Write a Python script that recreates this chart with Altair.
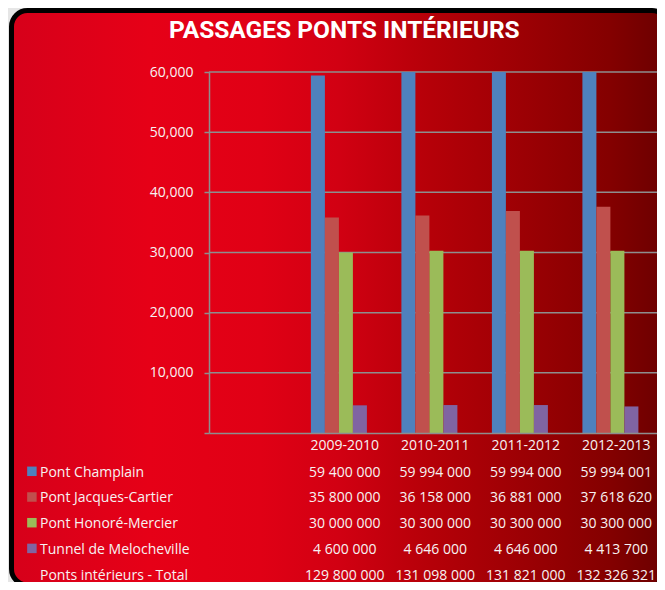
import altair as alt
import pandas as pd

# ---- data ----
years = ["2009-2010", "2010-2011", "2011-2012", "2012-2013"]
slots = [" "] + years  # first category slot is empty in the original
series = ["Pont Champlain", "Pont Jacques-Cartier", "Pont Honoré-Mercier", "Tunnel de Melocheville"]
champlain = [59400000, 59994000, 59994000, 59994001]
jacques_cartier = [35800000, 36158000, 36881000, 37618620]
honore_mercier = [30000000, 30300000, 30300000, 30300000]
melocheville = [4600000, 4646000, 4646000, 4413700]
total_label = "Ponts intérieurs - Total"
totals = [129800000, 131098000, 131821000, 132326321]
colors = ["#4f81bd", "#c0504d", "#9bbb59", "#8064a2"]
y_ticks = [0, 10000, 20000, 30000, 40000, 50000, 60000]
title_text = "PASSAGES PONTS INTÉRIEURS"

values_by_series = [champlain, jacques_cartier, honore_mercier, melocheville]
rows = series + [total_label]

bars_df = pd.DataFrame(
    [{"year": y, "series": s, "value": v[i]}
     for s, v in zip(series, values_by_series) for i, y in enumerate(years)]
)
table_df = pd.DataFrame(
    [{"year": y, "row": r, "txt": f"{v[i]:,}".replace(",", " ")}
     for r, v in zip(rows, values_by_series + [totals]) for i, y in enumerate(years)]
)
rows_df = pd.DataFrame({"row": rows, "series": series + [None]})
grid_df = pd.DataFrame({"v": y_ticks[1:]})
one = pd.DataFrame({"a": [0]})

TXT = "#f7f2f2"
GRID = "#8e8e8e"
FONT = "Open Sans"

yq = alt.Scale(domain=[0, 60000])
xs = alt.Scale(domain=slots, paddingInner=0, paddingOuter=0, range=[0, 452.5])
row_scale = alt.Scale(domain=rows, range=[404.7, 507.5], padding=0)
color_scale = alt.Scale(domain=series, range=colors)

gradient = alt.LinearGradient(
    gradient="linear", x1=0, x2=1, y1=0, y2=0,
    stops=[
        alt.GradientStop(color="#d6001a", offset=0.0),
        alt.GradientStop(color="#e60017", offset=0.21),
        alt.GradientStop(color="#e00015", offset=0.38),
        alt.GradientStop(color="#d10012", offset=0.5),
        alt.GradientStop(color="#b50008", offset=0.64),
        alt.GradientStop(color="#9c0004", offset=0.78),
        alt.GradientStop(color="#840000", offset=0.91),
        alt.GradientStop(color="#6a0000", offset=1.0),
    ],
)

bg = alt.Chart(one).mark_rect(
    fill=gradient, stroke="black", strokeWidth=5, cornerRadius=16
).encode(
    x=alt.value(-197.5), x2=alt.value(459), y=alt.value(-61.5), y2=alt.value(513)
)

grid = alt.Chart(grid_df).mark_rule(color=GRID, strokeWidth=1.5).encode(
    y=alt.Y("v:Q", scale=yq, axis=None),
    x=alt.value(0), x2=alt.value(460),
)

bars = alt.Chart(bars_df).transform_calculate(k="datum.value / 1000").mark_bar().encode(
    x=alt.X("year:N", scale=xs, sort=slots,
            axis=alt.Axis(title=None, ticks=False, domainColor=GRID, domainWidth=1.5,
                          labelColor=TXT, labelFont=FONT, labelFontSize=14,
                          labelPadding=5, labelAngle=0, zindex=1)),
    xOffset=alt.XOffset("series:N", scale=alt.Scale(domain=series, paddingInner=0,
                                                     paddingOuter=0, range=[11.4, 67.4])),
    y=alt.Y("k:Q", scale=yq,
            axis=alt.Axis(title=None, values=y_ticks, grid=False, format=",",
                          labelExpr="datum.value == 0 ? '' : format(datum.value, ',')",
                          domainColor=GRID, domainWidth=1.5, tickColor=GRID, tickWidth=1.5,
                          tickSize=5, labelPadding=11, labelColor=TXT, labelFont=FONT,
                          labelFontSize=14, zindex=1)),
    color=alt.Color("series:N", scale=color_scale, legend=None),
)

table = alt.Chart(table_df).mark_text(
    font=FONT, fontSize=14, color=TXT, align="center", baseline="alphabetic"
).encode(
    x=alt.X("year:N", scale=xs, sort=slots),
    y=alt.Y("row:N", scale=row_scale, axis=None, sort=rows),
    text="txt:N",
)

row_labels = alt.Chart(rows_df).mark_text(
    font=FONT, fontSize=14, color=TXT, align="left", baseline="alphabetic"
).encode(
    x=alt.value(-169),
    y=alt.Y("row:N", scale=row_scale, axis=None, sort=rows),
    text="row:N",
)

swatches = alt.Chart(rows_df).transform_filter("datum.series != null").mark_square(
    size=90, opacity=1, yOffset=-5.4
).encode(
    x=alt.value(-177.1),
    y=alt.Y("row:N", scale=row_scale, axis=None, sort=rows),
    color=alt.Color("series:N", scale=color_scale, legend=None),
)

title = alt.Chart(one).mark_text(
    text=title_text, font="Roboto", fontWeight="bold", fontSize=24.5,
    color="white", align="center", baseline="alphabetic"
).encode(x=alt.value(135.3), y=alt.value(-33.7))

chart = alt.layer(bg, grid, bars, table, row_labels, swatches, title).resolve_scale(
    y="independent"
).properties(
    width=448, height=361,
    padding={"left": 201, "top": 64, "right": 0, "bottom": 149},
    autosize=alt.AutoSizeParams(type="none"),
    background="#e6e6e6",
).configure_view(stroke=None)

chart.save("out.html", embed_options={"renderer": "svg", "actions": False})
